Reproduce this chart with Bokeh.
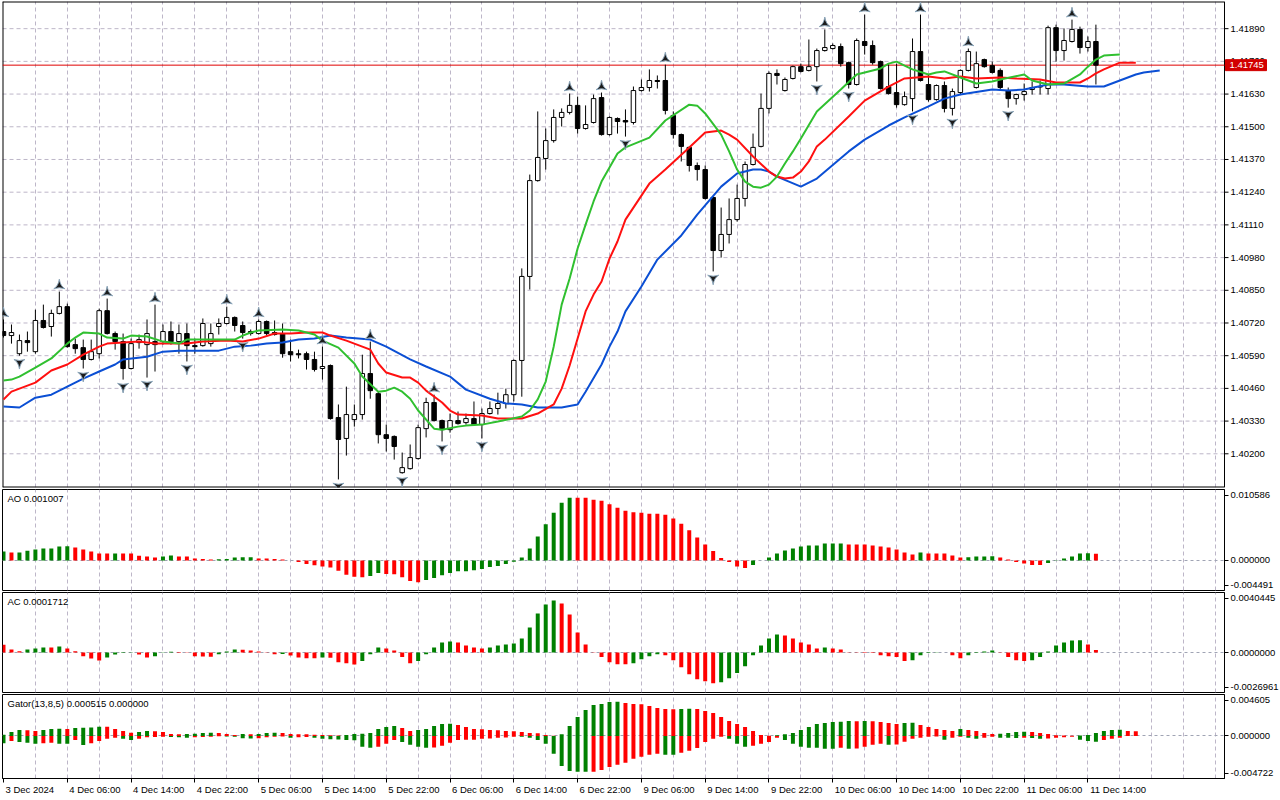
import math
from bokeh.plotting import figure
from bokeh.layouts import column
from bokeh.models import Range1d, FixedTicker, Label, Grid
from bokeh.core.properties import value
from bokeh.embed import file_html
from bokeh.resources import INLINE

# ---------------- data ----------------
open_ = [1.40686,1.40670,1.40598,1.40650,1.40606,1.40730,1.40706,1.40758,1.40785,1.40634,
         1.40622,1.40575,1.40598,1.40769,1.40678,1.40646,1.40539,1.40642,1.40634,1.40646,
         1.40646,1.40686,1.40646,1.40678,1.40630,1.40630,1.40638,1.40706,1.40718,1.40742,
         1.40710,1.40686,1.40678,1.40726,1.40682,1.40678,1.40606,1.40598,1.40598,1.40575,
         1.40539,1.40551,1.40344,1.40261,1.40336,1.40356,1.40519,1.40439,1.40276,1.40269,
         1.40125,1.40141,1.40181,1.40300,1.40404,1.40332,1.40296,1.40332,1.40324,1.40340,
         1.40316,1.40360,1.40380,1.40400,1.40435,1.40571,1.40905,1.41286,1.41374,1.41445,
         1.41537,1.41557,1.41585,1.41493,1.41517,1.41616,1.41469,1.41533,1.41525,1.41517,
         1.41644,1.41656,1.41684,1.41684,1.41545,1.41469,1.41418,1.41346,1.41330,1.41219,
         1.41008,1.41072,1.41131,1.41215,1.41350,1.41422,1.41573,1.41712,1.41644,1.41692,
         1.41739,1.41724,1.41739,1.41803,1.41811,1.41819,1.41755,1.41668,1.41839,1.41823,
         1.41759,1.41660,1.41636,1.41588,1.41612,1.41799,1.41668,1.41608,1.41664,1.41573,
         1.41636,1.41724,1.41656,1.41767,1.41743,1.41724,1.41644,1.41612,1.41628,1.41648,
         1.41660,1.41652,1.41894,1.41803,1.41839,1.41887,1.41815,1.41839]
high = [1.40734,1.40714,1.40674,1.40686,1.40773,1.40793,1.40773,1.40845,1.40797,1.40658,
        1.40654,1.40654,1.40777,1.40817,1.40686,1.40678,1.40658,1.40674,1.40734,1.40793,
        1.40714,1.40726,1.40714,1.40718,1.40658,1.40738,1.40718,1.40738,1.40785,1.40746,
        1.40726,1.40694,1.40734,1.40730,1.40730,1.40718,1.40654,1.40614,1.40606,1.40606,
        1.40626,1.40555,1.40396,1.40467,1.40396,1.40594,1.40646,1.40447,1.40316,1.40273,
        1.40205,1.40237,1.40316,1.40423,1.40435,1.40336,1.40360,1.40368,1.40360,1.40408,
        1.40380,1.40408,1.40443,1.40459,1.40575,1.40937,1.41310,1.41561,1.41493,1.41569,
        1.41573,1.41632,1.41620,1.41585,1.41628,1.41636,1.41541,1.41537,1.41569,1.41660,
        1.41688,1.41728,1.41704,1.41747,1.41561,1.41473,1.41422,1.41358,1.41346,1.41223,
        1.41179,1.41215,1.41270,1.41362,1.41473,1.41632,1.41720,1.41728,1.41696,1.41743,
        1.41751,1.41847,1.41811,1.41887,1.41831,1.41831,1.41759,1.41851,1.41946,1.41843,
        1.41763,1.41751,1.41751,1.41640,1.41851,1.41946,1.41708,1.41668,1.41680,1.41652,
        1.41728,1.41811,1.41799,1.41771,1.41759,1.41732,1.41656,1.41632,1.41672,1.41680,
        1.41684,1.41902,1.41906,1.41891,1.41926,1.41898,1.41859,1.41906]
low = [1.40662,1.40638,1.40590,1.40606,1.40598,1.40698,1.40666,1.40754,1.40622,1.40598,
       1.40539,1.40571,1.40579,1.40674,1.40614,1.40495,1.40535,1.40618,1.40503,1.40527,
       1.40634,1.40634,1.40598,1.40567,1.40598,1.40626,1.40626,1.40674,1.40714,1.40686,
       1.40658,1.40670,1.40674,1.40670,1.40670,1.40582,1.40567,1.40579,1.40535,1.40527,
       1.40495,1.40336,1.40098,1.40193,1.40308,1.40336,1.40419,1.40241,1.40209,1.40177,
       1.40121,1.40137,1.40177,1.40265,1.40328,1.40249,1.40284,1.40316,1.40316,1.40312,
       1.40261,1.40356,1.40356,1.40380,1.40408,1.40427,1.40853,1.41282,1.41330,1.41437,
       1.41501,1.41549,1.41473,1.41489,1.41513,1.41465,1.41465,1.41473,1.41461,1.41509,
       1.41640,1.41640,1.41652,1.41549,1.41453,1.41362,1.41322,1.41286,1.41211,1.40925,
       1.40980,1.41036,1.41123,1.41183,1.41346,1.41418,1.41553,1.41668,1.41640,1.41688,
       1.41716,1.41720,1.41680,1.41799,1.41807,1.41739,1.41652,1.41664,1.41787,1.41747,
       1.41648,1.41628,1.41576,1.41584,1.41561,1.41680,1.41600,1.41604,1.41557,1.41545,
       1.41628,1.41720,1.41652,1.41735,1.41712,1.41644,1.41576,1.41588,1.41604,1.41628,
       1.41628,1.41628,1.41759,1.41763,1.41835,1.41791,1.41799,1.41668]
close = [1.40670,1.40682,1.40650,1.40642,1.40730,1.40702,1.40758,1.40785,1.40626,1.40618,
         1.40575,1.40606,1.40769,1.40678,1.40646,1.40539,1.40638,1.40654,1.40678,1.40634,
         1.40686,1.40646,1.40678,1.40630,1.40626,1.40718,1.40678,1.40718,1.40742,1.40710,
         1.40682,1.40678,1.40726,1.40678,1.40674,1.40598,1.40594,1.40594,1.40575,1.40535,
         1.40547,1.40340,1.40257,1.40356,1.40356,1.40519,1.40451,1.40276,1.40261,1.40229,
         1.40145,1.40185,1.40304,1.40404,1.40332,1.40296,1.40332,1.40320,1.40340,1.40316,
         1.40360,1.40380,1.40400,1.40435,1.40571,1.40905,1.41286,1.41378,1.41445,1.41537,
         1.41557,1.41585,1.41493,1.41509,1.41612,1.41469,1.41537,1.41521,1.41519,1.41644,
         1.41656,1.41684,1.41680,1.41565,1.41469,1.41422,1.41346,1.41330,1.41215,1.41008,
         1.41072,1.41131,1.41215,1.41350,1.41418,1.41573,1.41712,1.41704,1.41688,1.41739,
         1.41720,1.41739,1.41803,1.41815,1.41823,1.41751,1.41668,1.41843,1.41823,1.41755,
         1.41652,1.41632,1.41588,1.41620,1.41799,1.41684,1.41608,1.41664,1.41573,1.41640,
         1.41724,1.41799,1.41751,1.41739,1.41716,1.41656,1.41612,1.41628,1.41640,1.41656,
         1.41658,1.41894,1.41803,1.41843,1.41887,1.41815,1.41839,1.41745]

fractal_up_bars = [0, 7, 13, 19, 28, 32, 40, 46, 54, 71, 75, 83, 103, 108, 115, 121, 134]
fractal_down_bars = [2, 10, 15, 18, 23, 30, 42, 50, 55, 60, 78, 89, 102, 106, 114, 119, 126]

jaw_bar = [0,2,4,6,8,10,12,14,15,18,20,22,24,27,29,31,33,35,37,39,41,43,46,48,51,53,56,58,61,63,
           65,67,70,72,73,75,76,77,78,80,82,85,87,90,92,94,95,96,97,100,102,106,108,111,113,116,118,120,124,126,
           128,131,133,136,138,140,142,143,145]
jaw_val = [1.40388,1.40384,1.40423,1.40435,1.40467,1.40499,1.40527,1.40555,1.40575,1.40586,
           1.40606,1.40610,1.40610,1.40610,1.40626,1.40630,1.40638,1.40642,1.40654,1.40658,
           1.40670,1.40662,1.40654,1.40626,1.40575,1.40547,1.40507,1.40455,1.40419,1.40400,
           1.40396,1.40384,1.40384,1.40396,1.40447,1.40555,1.40626,1.40686,1.40766,1.40865,
           1.40972,1.41068,1.41151,1.41262,1.41314,1.41330,1.41330,1.41322,1.41302,1.41262,
           1.41294,1.41402,1.41449,1.41505,1.41537,1.41581,1.41612,1.41628,1.41648,1.41644,
           1.41648,1.41668,1.41668,1.41660,1.41660,1.41684,1.41708,1.41716,1.41724]
teeth_bar = [0,1,2,4,6,8,10,12,13,15,17,19,21,23,25,28,30,32,34,36,38,40,41,43,46,47,48,50,51,52,
             53,55,56,57,60,62,65,67,69,70,71,72,73,74,75,76,77,78,81,83,86,88,90,91,92,94,96,97,98,99,
             100,101,102,103,106,108,111,113,116,118,120,122,125,127,130,132,135,136,137,138,140,141,142]
teeth_val = [1.40416,1.40447,1.40459,1.40483,1.40531,1.40555,1.40594,1.40626,1.40638,1.40642,
             1.40646,1.40638,1.40638,1.40638,1.40646,1.40650,1.40646,1.40658,1.40678,1.40678,
             1.40682,1.40682,1.40670,1.40650,1.40614,1.40559,1.40523,1.40503,1.40503,1.40483,
             1.40451,1.40404,1.40372,1.40356,1.40352,1.40340,1.40340,1.40360,1.40396,1.40459,
             1.40551,1.40658,1.40766,1.40833,1.40885,1.40976,1.41044,1.41131,1.41274,1.41330,
             1.41418,1.41477,1.41485,1.41469,1.41449,1.41382,1.41322,1.41302,1.41294,1.41298,
             1.41322,1.41362,1.41422,1.41449,1.41541,1.41604,1.41660,1.41692,1.41700,1.41692,
             1.41700,1.41692,1.41696,1.41692,1.41688,1.41676,1.41676,1.41692,1.41712,1.41728,
             1.41755,1.41755,1.41755]
lips_bar = [0,1,2,4,6,8,9,10,12,13,15,16,18,20,22,23,25,29,30,31,32,35,37,39,40,42,44,45,47,48,
            49,50,51,52,54,55,57,58,60,62,65,66,67,68,69,70,71,72,73,74,75,76,77,78,81,83,86,87,88,90,
            91,92,93,94,95,96,97,98,99,100,102,105,107,110,111,112,113,114,116,117,118,120,122,124,125,128,129,131,133,135,
            136,137,138,140]
lips_val = [1.40491,1.40495,1.40507,1.40543,1.40579,1.40638,1.40662,1.40682,1.40678,1.40662,
            1.40658,1.40670,1.40666,1.40646,1.40638,1.40654,1.40654,1.40654,1.40670,1.40682,
            1.40690,1.40694,1.40690,1.40674,1.40650,1.40622,1.40559,1.40507,1.40447,1.40451,
            1.40463,1.40447,1.40419,1.40372,1.40300,1.40296,1.40308,1.40312,1.40316,1.40328,
            1.40348,1.40372,1.40416,1.40487,1.40626,1.40793,1.40897,1.41016,1.41111,1.41203,
            1.41282,1.41338,1.41394,1.41418,1.41457,1.41525,1.41588,1.41584,1.41553,1.41469,
            1.41402,1.41330,1.41282,1.41262,1.41258,1.41270,1.41302,1.41354,1.41402,1.41453,
            1.41561,1.41648,1.41708,1.41732,1.41751,1.41759,1.41743,1.41728,1.41708,1.41716,
            1.41720,1.41696,1.41672,1.41680,1.41688,1.41708,1.41684,1.41668,1.41672,1.41708,
            1.41739,1.41767,1.41783,1.41787]

ao = [0.00134,0.00119,0.00120,0.00144,0.00163,0.00178,0.00179,0.00208,0.00213,0.00193,
      0.00163,0.00134,0.00104,0.00103,0.00105,0.00104,0.00102,0.00069,0.00059,0.00045,
      0.00059,0.00074,0.00059,0.00058,0.00030,0.00020,0.00015,0.00016,0.00020,0.00045,
      0.00046,0.00047,0.00030,0.00029,0.00020,0.00015,-0.00001,-0.00025,-0.00054,-0.00074,
      -0.00089,-0.00104,-0.00153,-0.00213,-0.00243,-0.00252,-0.00233,-0.00188,-0.00203,-0.00205,
      -0.00252,-0.00307,-0.00327,-0.00292,-0.00262,-0.00223,-0.00188,-0.00163,-0.00162,-0.00148,
      -0.00129,-0.00099,-0.00084,-0.00054,-0.00020,0.00045,0.00178,0.00356,0.00540,0.00713,
      0.00861,0.00936,0.00935,0.00934,0.00906,0.00891,0.00837,0.00787,0.00743,0.00718,
      0.00713,0.00698,0.00697,0.00683,0.00624,0.00549,0.00450,0.00342,0.00238,0.00139,
      0.00035,-0.00025,-0.00089,-0.00114,-0.00069,-0.00003,0.00045,0.00104,0.00149,0.00178,
      0.00208,0.00223,0.00224,0.00252,0.00253,0.00254,0.00238,0.00237,0.00236,0.00223,
      0.00208,0.00193,0.00163,0.00119,0.00089,0.00119,0.00104,0.00103,0.00102,0.00074,
      0.00045,0.00046,0.00059,0.00060,0.00061,0.00045,0.00015,-0.00025,-0.00045,-0.00069,
      -0.00070,-0.00040,-0.00005,0.00030,0.00060,0.00103,0.00108,0.001007]
ac = [0.00052,0.00020,0.00009,0.00020,0.00027,0.00034,0.00033,0.00040,0.00027,0.00009,
      -0.00025,-0.00040,-0.00054,-0.00034,-0.00013,-0.00004,-0.00002,-0.00013,-0.00034,-0.00025,
      0.00002,0.00005,0.00004,-0.00001,-0.00025,-0.00027,-0.00028,-0.00011,0.00007,0.00020,
      0.00019,0.00013,0.00007,-0.00001,-0.00011,-0.00010,-0.00020,-0.00034,-0.00038,-0.00039,
      -0.00034,-0.00035,-0.00065,-0.00072,-0.00081,-0.00058,-0.00011,0.00034,0.00027,0.00013,
      -0.00031,-0.00072,-0.00058,-0.00011,0.00034,0.00067,0.00074,0.00067,0.00047,0.00034,
      0.00027,0.00034,0.00047,0.00054,0.00061,0.00094,0.00168,0.00263,0.00323,0.00350,
      0.00330,0.00256,0.00135,0.00054,-0.00001,-0.00031,-0.00065,-0.00079,-0.00080,-0.00072,
      -0.00045,-0.00025,-0.00011,-0.00018,-0.00052,-0.00099,-0.00146,-0.00180,-0.00193,-0.00207,
      -0.00200,-0.00173,-0.00139,-0.00092,-0.00018,0.00047,0.00094,0.00121,0.00115,0.00094,
      0.00067,0.00054,0.00027,0.00034,0.00027,0.00020,0.00002,-0.00002,-0.00003,-0.00004,
      -0.00018,-0.00025,-0.00031,-0.00058,-0.00052,-0.00018,-0.00004,0.00001,0.00000,-0.00018,
      -0.00038,-0.00018,-0.00004,0.00007,0.00013,-0.00002,-0.00031,-0.00052,-0.00058,-0.00052,
      -0.00031,0.00007,0.00047,0.00067,0.00081,0.00082,0.00054,0.0001712]
gator_up = [0.000148,0.000444,0.000666,0.000648,0.000555,0.000666,0.000777,0.000796,0.000777,0.000888,
            0.000925,0.000944,0.001036,0.001018,0.000777,0.000555,0.000370,0.000444,0.000555,0.000537,
            0.000444,0.000222,0.000204,0.000222,0.000241,0.000333,0.000352,0.000333,0.000222,0.000111,
            0.000222,0.000185,0.000222,0.000333,0.000352,0.000333,0.000222,0.000204,0.000185,0.000148,
            0.000111,0.000074,0.000056,0.000111,0.000222,0.000241,0.000333,0.000777,0.000999,0.001110,
            0.000888,0.000555,0.000666,0.000777,0.001110,0.001332,0.001351,0.001221,0.000999,0.000777,
            0.000759,0.000666,0.000648,0.000555,0.000537,0.000444,0.000333,0.000315,0.000111,0.000037,
            0.000185,0.001110,0.002109,0.002886,0.003441,0.003552,0.003774,0.003793,0.003663,0.003552,
            0.003534,0.003330,0.003108,0.002997,0.002979,0.002997,0.003016,0.002997,0.002775,0.002553,
            0.002109,0.001665,0.001332,0.000999,0.000555,0.000111,0.000037,0.000074,0.000185,0.000333,
            0.000666,0.000999,0.001332,0.001443,0.001554,0.001573,0.001665,0.001647,0.001665,0.001647,
            0.001554,0.001443,0.001332,0.001443,0.001462,0.001221,0.000999,0.000777,0.000666,0.000555,
            0.000777,0.000666,0.000555,0.000333,0.000222,0.000241,0.000333,0.000444,0.000463,0.000444,
            0.000333,0.000222,0.000074,0.000056,0.000037,0.000056,0.000111,0.000333,0.000555,0.000666,
            0.000685,0.000555,0.000515]
gator_down = [-0.000814,-0.000555,-0.000666,-0.000740,-0.000851,-0.000814,-0.000740,-0.000851,-0.000870,-0.000444,
              -0.000999,-0.000814,-0.000555,-0.000296,-0.000185,-0.000296,-0.000444,-0.000296,-0.000148,-0.000111,
              -0.000074,-0.000111,-0.000148,-0.000185,-0.000148,-0.000111,-0.000074,-0.000037,-0.000056,-0.000074,
              -0.000259,-0.000278,-0.000259,-0.000148,-0.000074,-0.000056,-0.000185,-0.000148,-0.000111,-0.000185,
              -0.000296,-0.000370,-0.000389,-0.000444,-0.000463,-0.001184,-0.001295,-0.001184,-0.000851,-0.000444,
              -0.000666,-0.000962,-0.001184,-0.001295,-0.001277,-0.001073,-0.000740,-0.000444,-0.000426,-0.000407,
              -0.000296,-0.000278,-0.000185,-0.000167,-0.000074,-0.000093,-0.000185,-0.000444,-0.000851,-0.001961,
              -0.003330,-0.003885,-0.003959,-0.003978,-0.003959,-0.003774,-0.003441,-0.003182,-0.002960,-0.002516,
              -0.002294,-0.002072,-0.001961,-0.002072,-0.002091,-0.001850,-0.001628,-0.001332,-0.000666,-0.000296,
              -0.000074,-0.000296,-0.000851,-0.001184,-0.001073,-0.000851,-0.000666,-0.000185,-0.000444,-0.000851,
              -0.001184,-0.001295,-0.001314,-0.001406,-0.001425,-0.001295,-0.001406,-0.001388,-0.001184,-0.000962,
              -0.000851,-0.000962,-0.000944,-0.000629,-0.000296,-0.000185,-0.000074,-0.000056,-0.000407,-0.000185,
              -0.000074,-0.000185,-0.000296,-0.000185,-0.000074,-0.000185,-0.000204,-0.000222,-0.000185,-0.000222,
              -0.000296,-0.000278,-0.000185,-0.000148,-0.000074,-0.000407,-0.000555,-0.000629,-0.000444,-0.000296,
              -0.000185]

price_ticks = [1.40200,1.40330,1.40460,1.40590,1.40720,1.40850,1.40980,1.41110,
               1.41240,1.41370,1.41500,1.41630,1.41760,1.41890]
last_price = 1.41745
time_tick_bars = [0,8,16,24,32,40,48,56,64,72,80,88,96,104,112,120,128,136]
time_labels = ["3 Dec 2024","4 Dec 06:00","4 Dec 14:00","4 Dec 22:00","5 Dec 06:00",
               "5 Dec 14:00","5 Dec 22:00","6 Dec 06:00","6 Dec 14:00","6 Dec 22:00",
               "9 Dec 06:00","9 Dec 14:00","9 Dec 22:00","10 Dec 06:00","10 Dec 14:00",
               "10 Dec 22:00","11 Dec 06:00","11 Dec 14:00"]
main_range = (1.40066, 1.41998)
ao_range = (-0.004491, 0.010586)
ac_range = (-0.0026961, 0.0040445)
gator_range = (-0.004722, 0.004605)
ao_labels = ["-0.004491", "0.000000", "0.010586"]
ac_labels = ["-0.0026961", "0.0000000", "0.0040445"]
gator_labels = ["-0.004722", "0.000000", "0.004605"]

# ---------------- style / geometry ----------------
GREEN = "#008000"
RED = "#ff0000"
FONT = "Liberation Sans"
FS = "9.5px"
FS_PX = 9.5
GRID_C = "#bdb6c8"
X0, X1 = -0.125, 153.125
FRAME_W = 1222
AX_W = 56
PXB = FRAME_W / (X1 - X0)          # pixels per bar
xr = Range1d(X0, X1)
grid_bars = list(range(4, 154, 4))
idx = list(range(len(close)))

CHAR_EM = {" ": 0.278, ":": 0.278, "D": 0.722, "e": 0.556, "c": 0.5}


def text_px(s):
    return sum(CHAR_EM.get(ch, 0.556) for ch in s) * FS_PX


def style_yaxis(ax):
    ax.axis_line_color = "black"
    ax.major_tick_out = 4
    ax.major_tick_in = 0
    ax.minor_tick_out = 0
    ax.minor_tick_in = 0
    ax.major_label_standoff = 2
    ax.major_label_text_font = FONT
    ax.major_label_text_font_size = FS
    ax.major_label_text_color = "black"


def make_panel(h, rng, labels, title, bottom=1, xaxis=False):
    p = figure(frame_width=FRAME_W, frame_height=h, x_range=xr, y_range=Range1d(*rng),
               output_backend="svg", toolbar_location=None, tools="",
               x_axis_location="below" if xaxis else None, y_axis_location="right",
               min_border_left=2, min_border_right=AX_W, min_border_top=1, min_border_bottom=bottom,
               background_fill_color="white", border_fill_color="white")
    p.outline_line_color = "black"
    p.outline_line_width = 1
    p.grid.visible = False
    p.add_layout(Grid(dimension=0, ticker=FixedTicker(ticks=grid_bars),
                      grid_line_color=GRID_C, grid_line_dash="4 3", grid_line_width=1))
    p.add_layout(Grid(dimension=1, ticker=FixedTicker(ticks=[0]),
                      grid_line_color="#a0a4b4", grid_line_dash="3 3", grid_line_width=1))
    pad = 5.5 * (rng[1] - rng[0]) / h
    ticks = [rng[0] + pad, 0, rng[1] - pad]
    ax = p.yaxis[0]
    style_yaxis(ax)
    ax.ticker = FixedTicker(ticks=ticks)
    ax.major_label_overrides = {t: s for t, s in zip(ticks, labels)}
    p.add_layout(Label(x=X0, y=rng[1], x_offset=5, y_offset=-3, text=title,
                       text_baseline="top", text_align="left", text_font=FONT,
                       text_font_size=FS, text_color="black"))
    return p


def rise_colors(vals, first):
    cols = [first]
    for i in range(1, len(vals)):
        cols.append(GREEN if vals[i] > vals[i - 1] else RED)
    return cols


def abs_colors(vals, first):
    cols = [first]
    for i in range(1, len(vals)):
        cols.append(GREEN if abs(vals[i]) > abs(vals[i - 1]) else RED)
    return cols


# ---------------- main price panel (price scale drawn inside a wider frame) ----------------
MAIN_H = 486
MAIN_W = FRAME_W + AX_W
XM1 = X1 + AX_W / PXB
lo, hi = main_range
ppx = (hi - lo) / MAIN_H            # price per pixel
main = figure(frame_width=MAIN_W, frame_height=MAIN_H, x_range=Range1d(X0, XM1),
              y_range=Range1d(lo, hi), output_backend="svg", toolbar_location=None, tools="",
              x_axis_location=None, y_axis_location=None,
              min_border_left=2, min_border_right=0, min_border_top=1, min_border_bottom=1,
              background_fill_color="white", border_fill_color="white")
main.outline_line_color = None
main.grid.visible = False
main.add_layout(Grid(dimension=0, ticker=FixedTicker(ticks=grid_bars),
                     grid_line_color=GRID_C, grid_line_dash="4 3", grid_line_width=1))
n_t = len(price_ticks)
main.segment(x0=[X0] * n_t, y0=price_ticks, x1=[X1] * n_t, y1=price_ticks,
             line_color=GRID_C, line_dash="4 3", line_width=1)
# chart frame
main.segment(x0=[X0, X0, X0], y0=[lo, hi, lo], x1=[X0, X1, X1], y1=[hi, hi, lo],
             line_color="black", line_width=2)
main.segment(x0=[X1], y0=[lo], x1=[X1], y1=[hi], line_color="black", line_width=1)
# price scale ticks + labels
main.segment(x0=[X1] * n_t, y0=price_ticks, x1=[X1 + 4 / PXB] * n_t, y1=price_ticks,
             line_color="black", line_width=1)
main.text(x=[X1 + 6 / PXB] * n_t, y=price_ticks, text=["%.5f" % t for t in price_ticks],
          text_font=value(FONT), text_font_size=value(FS), text_color="black",
          text_baseline="middle", text_align="left")
# current price line
main.segment(x0=[X0], y0=[last_price], x1=[X1], y1=[last_price], line_color="#e00000", line_width=1)

main.segment(x0=idx, y0=low, x1=idx, y1=high, line_color="black", line_width=1)
bx = [i for i in idx if close[i] >= open_[i]]
sx = [i for i in idx if close[i] < open_[i]]
main.vbar(x=bx, top=[close[i] for i in bx], bottom=[open_[i] for i in bx], width=0.56,
          fill_color="white", line_color="black", line_width=1)
main.vbar(x=sx, top=[open_[i] for i in sx], bottom=[close[i] for i in sx], width=0.56,
          fill_color="black", line_color="black", line_width=1)

main.line(jaw_bar, jaw_val, line_color="#0b4fd4", line_width=2)
main.line(teeth_bar, teeth_val, line_color="#ff1010", line_width=2)
main.line(lips_bar, lips_val, line_color="#30c030", line_width=2)

main.scatter(x=fractal_up_bars, y=[high[i] + 6 * ppx for i in fractal_up_bars], marker="triangle_pin",
             size=11, fill_color="#1c1c1c", line_color="#8aa4b8", line_width=1)
main.scatter(x=fractal_down_bars, y=[low[i] - 7 * ppx for i in fractal_down_bars],
             marker="triangle_pin", angle=math.pi, size=11, fill_color="#1c1c1c",
             line_color="#8aa4b8", line_width=1)

# current price box on the price scale
main.quad(left=[X1 + 1 / PXB], right=[X1 + 42 / PXB], bottom=[last_price - 5.5 * ppx],
          top=[last_price + 5.5 * ppx], fill_color="#d20000", line_color="#d20000")
main.text(x=[X1 + 5 / PXB], y=[last_price], text=["%.5f" % last_price],
          text_font=value(FONT), text_font_size=value(FS), text_color="white",
          text_baseline="middle", text_align="left")

# ---------------- AO ----------------
aop = make_panel(101, ao_range, ao_labels, "AO 0.001007")
aop.vbar(x=idx, top=ao, bottom=0, width=0.5, fill_color=rise_colors(ao, GREEN), line_color=None)

# ---------------- AC ----------------
acp = make_panel(100, ac_range, ac_labels, "AC 0.0001712")
acp.vbar(x=idx, top=ac, bottom=0, width=0.5, fill_color=rise_colors(ac, RED), line_color=None)

# ---------------- Gator ----------------
gp = make_panel(84, gator_range, gator_labels, "Gator(13,8,5) 0.000515 0.000000", bottom=2, xaxis=True)
gp.vbar(x=list(range(len(gator_up))), top=gator_up, bottom=0, width=0.5,
        fill_color=abs_colors(gator_up, GREEN), line_color=None)
gp.vbar(x=list(range(len(gator_down))), top=0, bottom=gator_down, width=0.5,
        fill_color=abs_colors(gator_down, GREEN), line_color=None)

# time axis: small tick marks at the bars (minor ticks), labels starting at the tick
label_pos = [b + (text_px(s) / 2 + 2) / PXB for b, s in zip(time_tick_bars, time_labels)]
xa = gp.xaxis[0]
xa.ticker = FixedTicker(ticks=label_pos, minor_ticks=time_tick_bars)
xa.major_label_overrides = {p_: s for p_, s in zip(label_pos, time_labels)}
xa.major_label_text_font = FONT
xa.major_label_text_font_size = FS
xa.major_label_text_color = "black"
xa.major_label_standoff = 1
xa.axis_line_color = "black"
xa.major_tick_out = 0
xa.major_tick_in = 0
xa.minor_tick_out = 4
xa.minor_tick_in = 0
xa.minor_tick_line_color = "black"

layout = column(main, aop, acp, gp, spacing=0)
open("out.html", "w").write(file_html(layout, INLINE, "USDCAD H1"))
